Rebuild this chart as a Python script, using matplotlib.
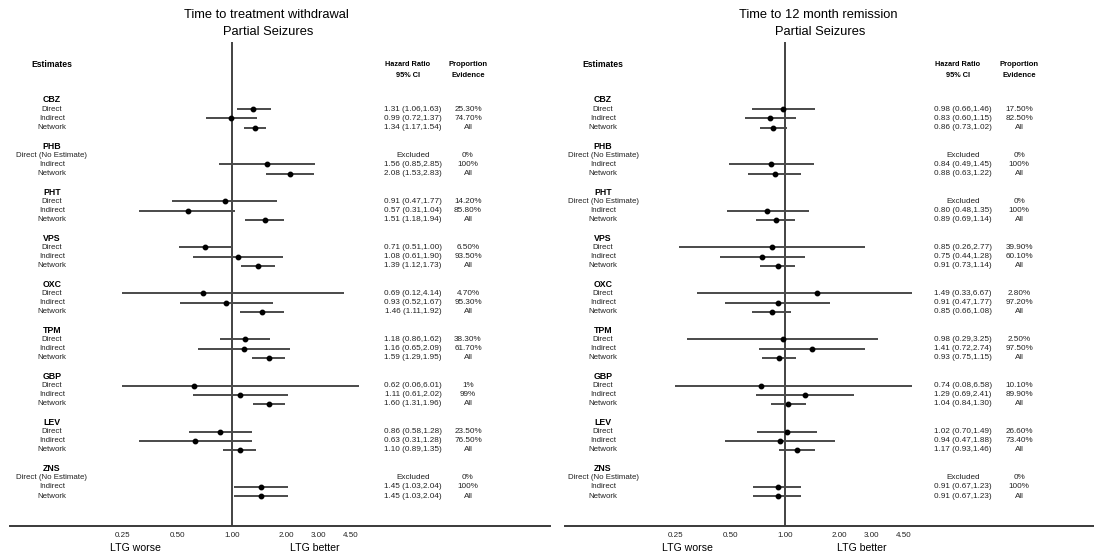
import numpy as np
import matplotlib
matplotlib.use("Agg")
import matplotlib.pyplot as plt
from matplotlib.transforms import blended_transform_factory

plt.rcParams['font.family'] = ['Liberation Sans', 'DejaVu Sans']

# ---------------- data ----------------
drugs = ["CBZ", "PHB", "PHT", "VPS", "OXC", "TPM", "GBP", "LEV", "ZNS"]
sources = ["Direct", "Indirect", "Network"]
tick_vals = [0.25, 0.50, 1.00, 2.00, 3.00, 4.50]
tick_labels = ["0.25", "0.50", "1.00", "2.00", "3.00", "4.50"]

nan = np.nan
# Time to treatment withdrawal (rows: drug x [Direct, Indirect, Network])
wd_hr = [1.31, 0.99, 1.34, nan, 1.56, 2.08, 0.91, 0.57, 1.51,
         0.71, 1.08, 1.39, 0.69, 0.93, 1.46, 1.18, 1.16, 1.59,
         0.62, 1.11, 1.60, 0.86, 0.63, 1.10, nan, 1.45, 1.45]
wd_lo = [1.06, 0.72, 1.17, nan, 0.85, 1.53, 0.47, 0.31, 1.18,
         0.51, 0.61, 1.12, 0.12, 0.52, 1.11, 0.86, 0.65, 1.29,
         0.06, 0.61, 1.31, 0.58, 0.31, 0.89, nan, 1.03, 1.03]
wd_hi = [1.63, 1.37, 1.54, nan, 2.85, 2.83, 1.77, 1.04, 1.94,
         1.00, 1.90, 1.73, 4.14, 1.67, 1.92, 1.62, 2.09, 1.95,
         6.01, 2.02, 1.96, 1.28, 1.28, 1.35, nan, 2.04, 2.04]
wd_prop = ["25.30%", "74.70%", "All", "0%", "100%", "All", "14.20%", "85.80%", "All",
           "6.50%", "93.50%", "All", "4.70%", "95.30%", "All", "38.30%", "61.70%", "All",
           "1%", "99%", "All", "23.50%", "76.50%", "All", "0%", "100%", "All"]

# Time to 12 month remission
rm_hr = [0.98, 0.83, 0.86, nan, 0.84, 0.88, nan, 0.80, 0.89,
         0.85, 0.75, 0.91, 1.49, 0.91, 0.85, 0.98, 1.41, 0.93,
         0.74, 1.29, 1.04, 1.02, 0.94, 1.17, nan, 0.91, 0.91]
rm_lo = [0.66, 0.60, 0.73, nan, 0.49, 0.63, nan, 0.48, 0.69,
         0.26, 0.44, 0.73, 0.33, 0.47, 0.66, 0.29, 0.72, 0.75,
         0.08, 0.69, 0.84, 0.70, 0.47, 0.93, nan, 0.67, 0.67]
rm_hi = [1.46, 1.15, 1.02, nan, 1.45, 1.22, nan, 1.35, 1.14,
         2.77, 1.28, 1.14, 6.67, 1.77, 1.08, 3.25, 2.74, 1.15,
         6.58, 2.41, 1.30, 1.49, 1.88, 1.46, nan, 1.23, 1.23]
rm_prop = ["17.50%", "82.50%", "All", "0%", "100%", "All", "0%", "100%", "All",
           "39.90%", "60.10%", "All", "2.80%", "97.20%", "All", "2.50%", "97.50%", "All",
           "10.10%", "89.90%", "All", "26.60%", "73.40%", "All", "0%", "100%", "All"]

titles = ["Time to treatment withdrawal\nPartial Seizures",
          "Time to 12 month remission\nPartial Seizures"]

# ---------------- layout ----------------
W, H = 1094, 558
fig = plt.figure(figsize=(W / 100, H / 100), dpi=100)

ROW0, STEP = 100.0, 9.21          # pixel y of first row and row step
AX_TOP, AX_BOT = 42, 526
PX_PER_LN = 79.0
CLIP = (0.25, 5.0)
ROWFS = 5.9

panels = [
    dict(x0=10, x1=550, ref=232, lab=52, hrc=413, prc=468, tit=266, worse=135, better=315,
         hr=wd_hr, lo=wd_lo, hi=wd_hi, prop=wd_prop, title=titles[0]),
    dict(x0=565, x1=1094, ref=785, lab=603, hrc=963, prc=1019, tit=818, worse=687, better=862,
         hr=rm_hr, lo=rm_lo, hi=rm_hi, prop=rm_prop, title=titles[1]),
]

def row_of(py):
    return (py - ROW0) / STEP

for p in panels:
    w = p["x1"] - p["x0"]
    ax = fig.add_axes([p["x0"] / W, (H - AX_BOT) / H, w / W, (AX_BOT - AX_TOP) / H])
    ax.set_xscale("log")
    ax.set_xlim(np.exp(-(p["ref"] - p["x0"]) / PX_PER_LN), np.exp((p["x1"] - p["ref"]) / PX_PER_LN))
    ax.set_ylim(row_of(AX_BOT), row_of(AX_TOP))
    for s in ["top", "right", "left"]:
        ax.spines[s].set_visible(False)
    ax.spines["bottom"].set_color("#3a3a3a")
    ax.spines["bottom"].set_linewidth(1.4)
    ax.set_yticks([])
    ax.set_xticks(tick_vals)
    ax.set_xticklabels(tick_labels)
    ax.xaxis.set_minor_locator(matplotlib.ticker.NullLocator())
    ax.tick_params(axis="x", length=0, pad=4, labelsize=5.8, colors="#222222")
    ax.patch.set_alpha(0)

    ax.axvline(1.0, color="#222222", lw=1.2, zorder=1)

    tr = blended_transform_factory(ax.transAxes, ax.transData)
    fx = lambda px: (px - p["x0"]) / w

    # header
    ax.text(fx(p["lab"]), row_of(65), "Estimates", transform=tr, ha="center", va="center",
            fontsize=6.2, fontweight="bold", clip_on=False)
    ax.text(fx(p["hrc"] - 5), row_of(65), "Hazard Ratio", transform=tr, ha="center", va="center",
            fontsize=5.3, fontweight="bold", clip_on=False)
    ax.text(fx(p["hrc"] - 5), row_of(75.5), "95% CI", transform=tr, ha="center", va="center",
            fontsize=5.3, fontweight="bold", clip_on=False)
    ax.text(fx(p["prc"]), row_of(65), "Proportion", transform=tr, ha="center", va="center",
            fontsize=5.5, fontweight="bold", clip_on=False)
    ax.text(fx(p["prc"]), row_of(75.5), "Evidence", transform=tr, ha="center", va="center",
            fontsize=5.5, fontweight="bold", clip_on=False)

    # title
    ax.text(fx(p["tit"]), row_of(15), p["title"].split("\n")[0], transform=tr, ha="center",
            va="center", fontsize=9.3, clip_on=False)
    ax.text(fx(p["tit"] + 2), row_of(32), p["title"].split("\n")[1], transform=tr, ha="center",
            va="center", fontsize=9.3, clip_on=False)

    # bottom labels
    ax.text(fx(p["worse"]), row_of(548), "LTG worse", transform=tr, ha="center", va="center",
            fontsize=7.6, clip_on=False)
    ax.text(fx(p["better"]), row_of(548), "LTG better", transform=tr, ha="center", va="center",
            fontsize=7.6, clip_on=False)

    for gi, drug in enumerate(drugs):
        base = gi * 5
        ax.text(fx(p["lab"]), base, drug, transform=tr, ha="center", va="center",
                fontsize=6.3, fontweight="bold")
        for si, src in enumerate(sources):
            k = gi * 3 + si
            y = base + 1 + si
            hr, lo, hi = p["hr"][k], p["lo"][k], p["hi"][k]
            excluded = np.isnan(hr)
            label = src + " (No Estimate)" if excluded else src
            ax.text(fx(p["lab"]), y, label, transform=tr, ha="center", va="center",
                    fontsize=5.7, color="#222222")
            hrtxt = "Excluded" if excluded else f"{hr:.2f} ({lo:.2f},{hi:.2f})"
            ax.text(fx(p["hrc"]), y, hrtxt, transform=tr, ha="center", va="center",
                    fontsize=ROWFS, color="#222222")
            ax.text(fx(p["prc"]), y, p["prop"][k], transform=tr, ha="center", va="center",
                    fontsize=ROWFS, color="#222222")
            if not excluded:
                ax.plot([np.clip(lo, *CLIP), np.clip(hi, *CLIP)], [y, y], color="#4a4a4a",
                        lw=1.4, solid_capstyle="butt", zorder=2)
                ax.plot([hr], [y], "o", color="black", ms=3.2, zorder=3)

fig.savefig("out.png", dpi=100)
